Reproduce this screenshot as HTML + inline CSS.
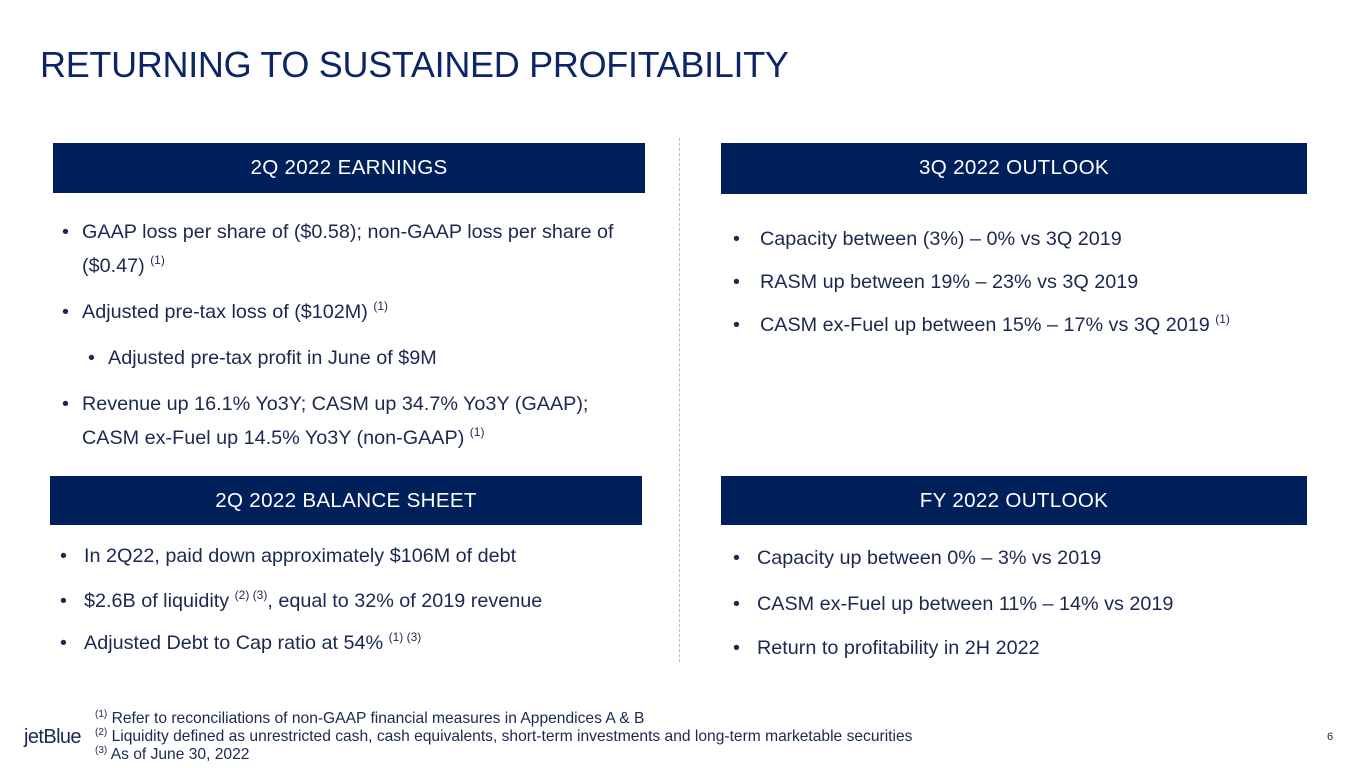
<!DOCTYPE html>
<html><head><meta charset="utf-8"><style>
body{margin:0;width:1365px;height:768px;background:#fff;position:relative;overflow:hidden;font-family:"Liberation Sans",sans-serif;color:#1c2850}
.a{position:absolute;white-space:nowrap}
.t{left:40px;top:44px;font-size:36px;color:#0c2566;letter-spacing:-0.3px}
.h{position:absolute;background:#00205b;color:#fff;font-size:20.6px;text-align:center;line-height:50px;letter-spacing:0.3px}
.l{position:absolute;font-size:19.8px;line-height:20px;white-space:nowrap}
sup{font-size:12px;vertical-align:baseline;position:relative;top:-8px}
.f{position:absolute;left:95px;font-size:15.6px;line-height:18px;white-space:nowrap}
.f sup{font-size:10px;top:-6px}
</style></head><body>
<div class="a t">RETURNING TO SUSTAINED PROFITABILITY</div>
<div style="position:absolute;left:679px;top:138px;height:524px;border-left:1px dashed #b8bcc8"></div>
<div class="h" style="left:53px;top:143px;width:592px;height:50px">2Q 2022 EARNINGS</div>
<div class="h" style="left:721px;top:143px;width:586px;height:51px">3Q 2022 OUTLOOK</div>
<div class="h" style="left:50px;top:476px;width:592px;height:49px">2Q 2022 BALANCE SHEET</div>
<div class="h" style="left:721px;top:476px;width:586px;height:49px">FY 2022 OUTLOOK</div>

<div class="l" style="left:62px;top:222px">•</div><div class="l" style="left:82px;top:222px">GAAP loss per share of ($0.58); non-GAAP loss per share of</div>
<div class="l" style="left:82px;top:256px">($0.47) <sup>(1)</sup></div>
<div class="l" style="left:62px;top:302px">•</div><div class="l" style="left:82px;top:302px">Adjusted pre-tax loss of ($102M) <sup>(1)</sup></div>
<div class="l" style="left:88px;top:348px">•</div><div class="l" style="left:108px;top:348px">Adjusted pre-tax profit in June of $9M</div>
<div class="l" style="left:62px;top:394px">•</div><div class="l" style="left:82px;top:394px">Revenue up 16.1% Yo3Y; CASM up 34.7% Yo3Y (GAAP);</div>
<div class="l" style="left:82px;top:428px">CASM ex-Fuel up 14.5% Yo3Y (non-GAAP) <sup>(1)</sup></div>

<div class="l" style="left:733px;top:229px">•</div><div class="l" style="left:760px;top:229px">Capacity between (3%) – 0% vs 3Q 2019</div>
<div class="l" style="left:733px;top:272px">•</div><div class="l" style="left:760px;top:272px">RASM up between 19% – 23% vs 3Q 2019</div>
<div class="l" style="left:733px;top:315px">•</div><div class="l" style="left:760px;top:315px">CASM ex-Fuel up between 15% – 17% vs 3Q 2019 <sup>(1)</sup></div>

<div class="l" style="left:60px;top:546px">•</div><div class="l" style="left:84px;top:546px">In 2Q22, paid down approximately $106M of debt</div>
<div class="l" style="left:60px;top:591px">•</div><div class="l" style="left:84px;top:591px">$2.6B of liquidity <sup>(2) (3)</sup>, equal to 32% of 2019 revenue</div>
<div class="l" style="left:60px;top:633px">•</div><div class="l" style="left:84px;top:633px">Adjusted Debt to Cap ratio at 54% <sup>(1) (3)</sup></div>

<div class="l" style="left:733px;top:548px">•</div><div class="l" style="left:757px;top:548px">Capacity up between 0% – 3% vs 2019</div>
<div class="l" style="left:733px;top:594px">•</div><div class="l" style="left:757px;top:594px">CASM ex-Fuel up between 11% – 14% vs 2019</div>
<div class="l" style="left:733px;top:638px">•</div><div class="l" style="left:757px;top:638px">Return to profitability in 2H 2022</div>

<div class="f" style="top:710px"><sup>(1)</sup> Refer to reconciliations of non-GAAP financial measures in Appendices A &amp; B</div>
<div class="f" style="top:728px"><sup>(2)</sup> Liquidity defined as unrestricted cash, cash equivalents, short-term investments and long-term marketable securities</div>
<div class="f" style="top:746px"><sup>(3)</sup> As of June 30, 2022</div>
<div class="a" style="left:24px;top:726px;font-size:20px;color:#1c2850;letter-spacing:-0.6px">jetBlue</div>
<div class="a" style="left:1327px;top:731px;font-size:11px">6</div>
</body></html>
